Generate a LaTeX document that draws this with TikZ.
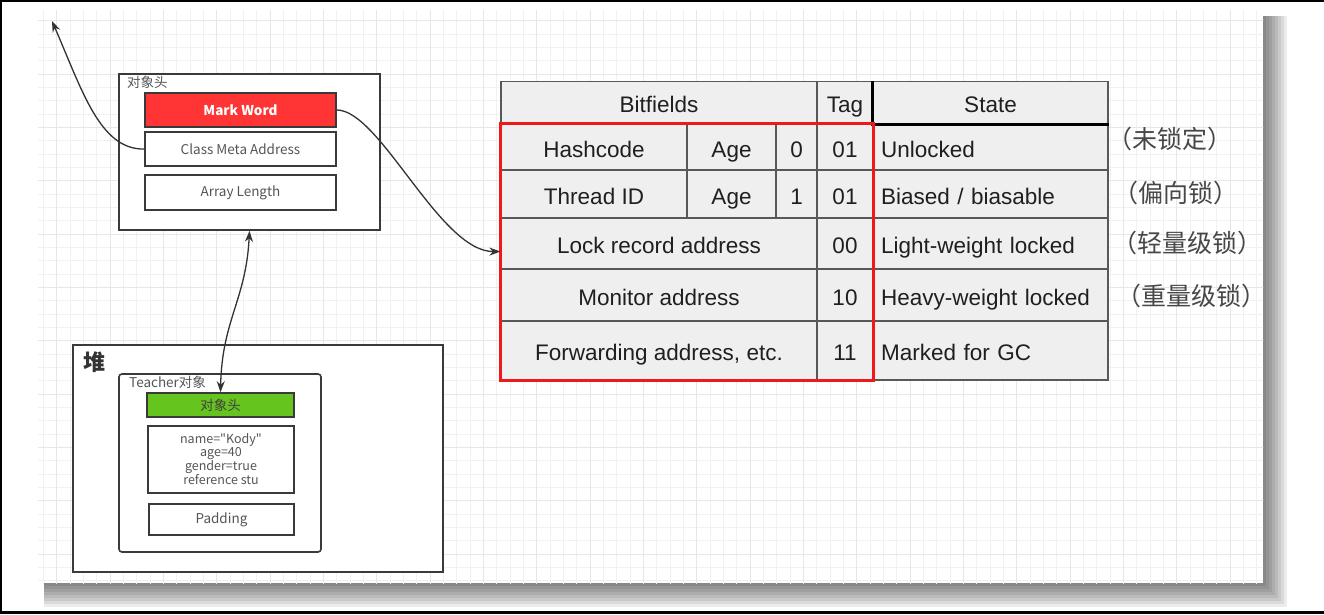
\documentclass[tikz,border=0pt]{standalone}
\usepackage{fontspec}
\setmainfont{Liberation Sans}
\newfontfamily\cjk{Noto Sans CJK SC}
\usepackage{xcolor}
\usetikzlibrary{arrows.meta,calc}

\definecolor{markred}{HTML}{FF3434}
\definecolor{headgreen}{HTML}{66C41E}
\definecolor{cellgray}{HTML}{EFEFEF}
\definecolor{linegray}{HTML}{585858}
\definecolor{boxgray}{HTML}{3A3A3A}
\definecolor{txtgray}{HTML}{555555}
\definecolor{lockred}{HTML}{F01818}
\definecolor{gridminor}{HTML}{F1F1F1}
\definecolor{gridmajor}{HTML}{E7E7E7}

\tikzset{
  box/.style={draw=boxgray, line width=1.6pt, fill=white, inner sep=0pt},
  smalltxt/.style={font=\cjk\fontsize{13.5}{16}\selectfont, text=txtgray},
  field/.style={box, smalltxt, minimum width=191, minimum height=34},
  cell/.style={draw=linegray, line width=1.2pt, fill=cellgray, inner sep=0pt,
    text height=22pt, text depth=2pt,
    font=\fontsize{22.5}{26}\selectfont, text=black!88},
  statecell/.style={cell, inner xsep=8pt, text width=219pt, align=left, minimum width=235},
  note/.style={font=\cjk\fontsize{25}{28}\selectfont, text=black!72},
  link/.style={draw=black!80, line width=1.3pt, -{Stealth[length=11pt,width=8pt]}},
}

\begin{document}
\begin{tikzpicture}[x=1pt, y=1pt, yscale=-1]
    % Page and frame
    \useasboundingbox (0,0) rectangle (1324,614);
    \fill[white] (0,0) rectangle (1324,614);
    \fill[black] (0,0) rectangle (1324,2);
    \fill[black] (0,0) rectangle (1.5,614);
    \fill[black] (0,611) rectangle (1324,614);

    % Shadow of the sheet
    \foreach \e in {3,6,...,24}
        \fill[black, opacity=0.075] (44,16) rectangle (1263+\e,583+\e);

    % Grid paper
    \fill[white] (38,10) rectangle (1263,583);
    \begin{scope}[shift={(3.333,20.667)}]
        \clip (34.667,-10.667) rectangle (1259.667,562.333);
        \draw[gridminor, line width=0.8pt] (-20,-40) grid[step=13.333] (1280,580);
        \draw[gridmajor, line width=0.9pt] (-20,-40) grid[step=53.333] (1280,580);
    \end{scope}

    % Object header
    \node[box, minimum width=261, minimum height=156] (header) at (249.5,152) {};
    \node[smalltxt, anchor=west, inner sep=0pt] (headerlbl) at (127,82) {对象头};
    \node[field, fill=markred, text=white, font=\cjk\bfseries\fontsize{13.5}{16}\selectfont] (markword) at (240.5,110) {Mark Word};
    \node[field] (classmeta) at (240.5,149) {Class Meta Address};
    \node[field, minimum height=35] (arraylen) at (240.5,192.5) {Array Length};

    % Heap
    \node[box, minimum width=370, minimum height=227] (heap) at (258,458.5) {};
    \node[anchor=west, inner sep=0pt, text=black!80,
          font=\cjk\bfseries\fontsize{22}{24}\selectfont] (heaplbl) at (83,362) {堆};
    \node[box, rounded corners=3pt, minimum width=202, minimum height=178] (teacher) at (220,463) {};
    \node[smalltxt, anchor=west, inner sep=0pt] (teacherlbl) at (129,382) {Teacher对象};
    \node[field, fill=headgreen, text=black!75, minimum width=147, minimum height=24] (objhead) at (220.5,405) {对象头};
    \node[field, minimum width=146, minimum height=67, align=center,
          font=\cjk\fontsize{12.5}{12.8}\selectfont] (fields) at (221,459.5)
          {name=\textquotedbl Kody\textquotedbl\\age=40\\gender=true\\reference stu};
    \node[field, minimum width=145, minimum height=31] (padding) at (221.5,519.5) {Padding};

    % Mark word table
    \node[cell, minimum width=316, minimum height=42.5] (bitf) at (659,102.75) {Bitfields};
    \node[cell, minimum width=56, minimum height=42.5] (tag) at (845,102.75) {Tag};
    \node[cell, minimum width=235, minimum height=42.5] (state) at (990.5,102.75) {State};

    \node[cell, minimum width=186, minimum height=46] (hash) at (594,147) {Hashcode};
    \node[cell, minimum width=89, minimum height=46] (age1) at (731.5,147) {Age};
    \node[cell, minimum width=41, minimum height=46] (bit0) at (796.5,147) {0};
    \node[cell, minimum width=56, minimum height=46] (tag1) at (845,147) {01};
    \node[statecell, minimum height=46] (unlocked) at (990.5,147) {Unlocked};

    \node[cell, minimum width=186, minimum height=48] (thread) at (594,194) {Thread ID};
    \node[cell, minimum width=89, minimum height=48] (age2) at (731.5,194) {Age};
    \node[cell, minimum width=41, minimum height=48] (bit1) at (796.5,194) {1};
    \node[cell, minimum width=56, minimum height=48] (tag2) at (845,194) {01};
    \node[statecell, minimum height=48] (biased) at (990.5,194) {Biased / biasable};

    \node[cell, minimum width=316, minimum height=51] (lock) at (659,243.5) {Lock record address};
    \node[cell, minimum width=56, minimum height=51] (tag3) at (845,243.5) {00};
    \node[statecell, minimum height=51] (light) at (990.5,243.5) {Light-weight locked};

    \node[cell, minimum width=316, minimum height=52] (monitor) at (659,295) {Monitor address};
    \node[cell, minimum width=56, minimum height=52] (tag4) at (845,295) {10};
    \node[statecell, minimum height=52] (heavy) at (990.5,295) {Heavy-weight locked};

    \node[cell, minimum width=316, minimum height=59] (fwd) at (659,350.5) {Forwarding address, etc.};
    \node[cell, minimum width=56, minimum height=59] (tag5) at (845,350.5) {11};
    \node[statecell, minimum height=59] (gc) at (990.5,350.5) {Marked for GC};

    \draw[black, line width=2.8pt] (state.north west) -- (state.south west) -- (state.south east);
    \draw[lockred, line width=3pt] (hash.north west) rectangle (tag5.south east);

    % Lock names
    \node[note] (n1) at (1170,139) {（未锁定）};
    \node[note] (n2) at (1176,193) {（偏向锁）};
    \node[note] (n3) at (1187,243) {（轻量级锁）};
    \node[note] (n4) at (1191,296) {（重量级锁）};

    % Connectors
    \coordinate (klass) at (52,21);
    \draw[link] (classmeta.west) .. controls (100,150) and (82,90) .. (klass);
    \draw[link] (markword.east) .. controls (380,110) and (440,252) .. ($(lock.west)+(0,8)$);
    \draw[link, {Stealth[length=11pt,width=8pt]}-{Stealth[length=11pt,width=8pt]}]
        (header.south) .. controls (246,300) and (222,320) .. (objhead.north);
\end{tikzpicture}
\end{document}
